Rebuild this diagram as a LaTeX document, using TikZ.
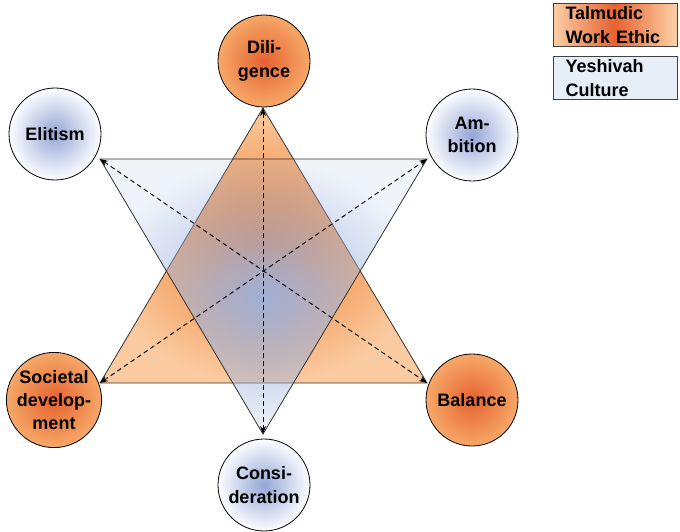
\documentclass[tikz,border=0pt]{standalone}
\usepackage{fontspec}
\setmainfont{Liberation Sans}
\usetikzlibrary{arrows.meta,fadings}

\definecolor{ethicInner}{RGB}{230,98,48}
\definecolor{ethicOuter}{RGB}{246,168,104}
\definecolor{triInner}{RGB}{238,122,40}
\definecolor{triOuter}{RGB}{250,202,160}
\definecolor{cultInner}{RGB}{148,166,214}
\definecolor{cultOuter}{RGB}{252,253,255}
\definecolor{triBlue}{RGB}{156,178,222}
\definecolor{legendBlue}{RGB}{230,238,248}

\tikzfading[name=blueglow,inner color=transparent!5,outer color=transparent!85]

\tikzset{
  label font/.style={font=\bfseries\fontsize{13.5}{17.5}\selectfont},
  value/.style={circle,draw=black,line width=0.6pt,minimum size=69pt,inner sep=0pt,align=center,label font},
  ethic/.style={value,inner color=ethicInner,outer color=ethicOuter},
  culture/.style={value,inner color=cultInner,outer color=cultOuter},
  edge line/.style={draw=black!80,line width=0.6pt},
  link/.style={dashed,dash pattern=on 3.5pt off 2.5pt,line width=0.7pt,{Stealth[length=6pt,width=4.5pt]}-{Stealth[length=6pt,width=4.5pt]}},
  keybox/.style={rectangle,draw=black!75,line width=0.8pt,anchor=north west,text width=75pt,inner xsep=9pt,inner ysep=1pt,minimum height=32.5pt,align=left,label font}
}

\begin{document}
\begin{tikzpicture}[x=0.75pt,y=-0.75pt]
    % Canvas
    \useasboundingbox (0,0) rectangle (680,531);

    % Triangle corners
    \coordinate (oTop) at (263,108);
    \coordinate (oLeft) at (100,383);
    \coordinate (oRight) at (427,383);
    \coordinate (bLeft) at (100,159);
    \coordinate (bRight) at (427,159);
    \coordinate (bBot) at (263,434);

    % Talmudic work ethic triangle
    \shade[inner color=triInner,outer color=triOuter] (oTop) -- (oRight) -- (oLeft) -- cycle;
    \draw[edge line] (oTop) -- (oRight) -- (oLeft) -- cycle;

    % Yeshivah culture triangle (see-through, fades outwards)
    \fill[triBlue,path fading=blueglow] (bLeft) -- (bRight) -- (bBot) -- cycle;
    \draw[edge line] (bLeft) -- (bRight) -- (bBot) -- cycle;

    % Dashed links through the centre
    \draw[link] (oTop) -- (bBot);
    \draw[link] (bLeft) -- (oRight);
    \draw[link] (oLeft) -- (bRight);

    % Values
    \node[ethic] (dil) at (264,61) {Dili-\\gence};
    \node[culture] (eli) at (55,134) {Elitism};
    \node[culture] (amb) at (472,135) {Am-\\bition};
    \node[ethic] (soc) at (54,400) {Societal\\develop-\\ment};
    \node[ethic] (bal) at (472,400) {Balance};
    \node[culture] (con) at (264,485) {Consi-\\deration};

    % Legend (orange band built from thin strips)
    \foreach \i in {0,...,61} {
        \pgfmathtruncatemacro\mix{max(0,100-abs(\i-30.5)*3.4)}
        \fill[ethicInner!\mix!triOuter] (553+2*\i,3) rectangle ++(2.3,43.3);
    }
    \node[keybox] (keyEthic) at (553,3) {Talmudic\\Work Ethic};
    \node[keybox,fill=legendBlue] (keyCulture) at (553,56) {Yeshivah\\Culture};

\end{tikzpicture}
\end{document}
